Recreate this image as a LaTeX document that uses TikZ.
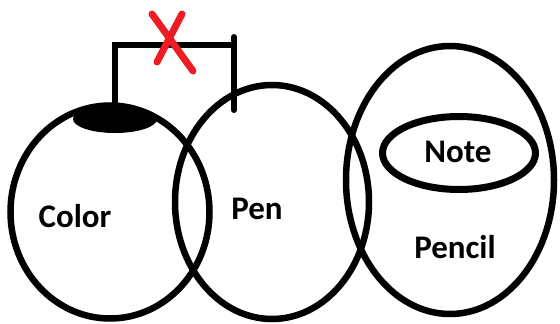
\documentclass[tikz,border=0pt]{standalone}
\usepackage{fontspec}
\setmainfont{Carlito}
\usetikzlibrary{shapes.geometric}
\definecolor{xred}{HTML}{ED1C24}
\begin{document}
\begin{tikzpicture}[x=1pt,y=-1pt,
  setshape/.style={ellipse,draw=black,line width=6.5pt,inner sep=0pt,minimum width=#1},
  lbl/.style={font=\fontsize{33}{40}\selectfont\bfseries,inner sep=0pt,text=black},
  bracketline/.style={line width=6pt,line cap=round,line join=miter},
  crossline/.style={draw=xred,line width=7pt,line cap=round}]
\useasboundingbox (0,0) rectangle (560,324);
\node[setshape=199pt,minimum height=213pt] (color) at (110,212) {};
\node[setshape=194pt,minimum height=234pt] (pen) at (272,202) {};
\node[setshape=208pt,minimum height=268pt] (pencil) at (450,180) {};
\node[setshape=153pt,minimum height=73pt,line width=7pt] (note) at (459,153) {};
\fill (115,119) ellipse [x radius=42pt, y radius=14pt];
\node[lbl] (tcolor) at (75,216) {Color};
\node[lbl] (tpen) at (257,209) {Pen};
\node[lbl] (tnote) at (458,152) {Note};
\node[lbl] (tpencil) at (455,247) {Pencil};
\coordinate (b1) at (115,108);
\coordinate (b2) at (115,45);
\coordinate (b3) at (234,45);
\coordinate (b4) at (234,37);
\coordinate (b5) at (234,110);
\draw[bracketline] (b1) -- (b2) -- (b3);
\draw[bracketline] (b4) -- (b5);
\coordinate (x1) at (152,14);
\coordinate (x2) at (193,71);
\coordinate (x3) at (182,14);
\coordinate (x4) at (157,62);
\draw[crossline] (x1) -- (x2);
\draw[crossline] (x3) -- (x4);
\end{tikzpicture}
\end{document}
